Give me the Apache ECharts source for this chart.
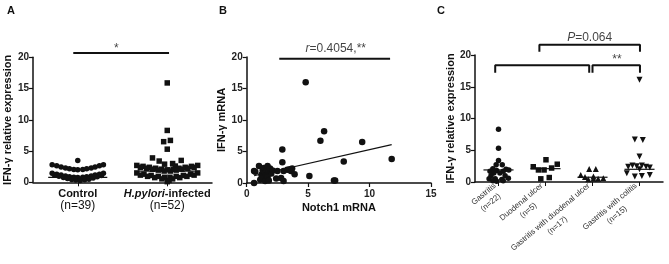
<!DOCTYPE html>
<html>
<head>
<meta charset="utf-8">
<script src="https://cdn.jsdelivr.net/npm/echarts@6/dist/echarts.min.js"></script>
<style>
  html, body { margin: 0; padding: 0; background: #fff; }
  #chart { width: 669px; height: 264px; }
</style>
</head>
<body>
<div id="chart"></div>
<script>
const FONT = '"Liberation Sans", Arial, Helvetica, sans-serif';
const INK = '#111';

// ---- panel A: control vs H.pylori-infected
const groupsA = ['Control', 'H.pylori-infected'];
const countsA = [39, 52];
const controlY = [
  2.8, 2.65, 2.45, 2.3, 2.15, 2.05, 2.0, 2.05, 2.15, 2.3, 2.45, 2.65, 2.8,
  3.5,
  1.45, 1.3, 1.15, 1.0, 0.9, 0.8, 0.75, 0.8, 0.9, 1.0, 1.15, 1.3, 1.45,
  1.15, 0.95, 0.75, 0.6, 0.45, 0.35, 0.3, 0.4, 0.5, 0.7, 0.9, 1.1
];
const controlDx = [
  -0.286, -0.235, -0.186, -0.137, -0.093, -0.044, 0, 0.056, 0.1, 0.15, 0.194, 0.242, 0.287,
  0,
  -0.286, -0.235, -0.186, -0.137, -0.093, -0.044, 0, 0.056, 0.1, 0.15, 0.194, 0.242, 0.287,
  -0.26, -0.21, -0.16, -0.115, -0.068, -0.022, 0.028, 0.078, 0.125, 0.172, 0.218, 0.265
];
const pyloriY = [
  15.9, 8.3, 6.7, 6.5, 5.3, 3.9, 3.5, 3.4, 3.0, 2.9, 2.6,
  2.7, 2.55, 2.4, 2.25, 2.1, 2.0, 2.1, 2.25, 2.4, 2.55, 2.7,
  2.4, 2.25, 2.1, 1.95, 1.8, 1.8, 1.95, 2.1, 2.25, 2.4,
  1.5, 1.3, 1.1, 0.95, 0.8, 0.8, 0.95, 1.1, 1.3, 1.5,
  1.15, 0.95, 0.75, 0.55, 0.55, 0.75, 0.95, 1.15,
  0.1, 0.3
];
const pyloriDx = [
  0, 0, 0.035, -0.04, 0, -0.165, 0.156, -0.09, 0.06, -0.03, 0.09,
  -0.34, -0.27, -0.2, -0.13, -0.065, 0, 0.065, 0.13, 0.2, 0.27, 0.34,
  -0.3, -0.23, -0.165, -0.1, -0.035, 0.035, 0.1, 0.165, 0.23, 0.3,
  -0.34, -0.26, -0.18, -0.1, -0.03, 0.03, 0.1, 0.18, 0.26, 0.34,
  -0.3, -0.22, -0.14, -0.06, 0.06, 0.14, 0.22, 0.3,
  0, 0.02
];
const mediansA = [0.8, 1.8];

// ---- panel B: Notch1 vs IFN-y
const notchX = [
  0.6, 0.6, 0.7, 1.0, 1.1, 1.2, 1.3, 1.3, 1.4, 1.5, 1.5, 1.6, 1.7, 1.7, 1.8, 1.8,
  1.9, 2.0, 2.1, 2.4, 2.5, 2.8, 2.9, 2.9, 3.0, 3.0, 3.3, 3.5, 3.6, 3.7, 3.9,
  4.8, 5.1, 6.0, 6.3, 7.1, 7.2, 7.9, 9.4, 11.8
];
const ifnY = [
  0.0, 1.9, 1.8, 2.7, 0.5, 1.3, 2.0, 0.8, 2.4, 1.6, 0.3, 2.1, 2.7, 1.0, 1.8, 0.4,
  2.3, 1.5, 2.0, 0.7, 1.9, 0.8, 5.3, 3.3, 0.3, 1.9, 2.1, 2.2, 1.9, 2.3, 1.4,
  16.0, 1.1, 6.7, 8.2, 0.4, 0.4, 3.4, 6.5, 3.8
];
const fitX = [0.6, 11.8];
const fitY = [1.15, 6.1];

// ---- panel C: disease subgroups
const groupsC = ['Gastritis', 'Duodenal ulcer', 'Gastritis with duodenal ulcer', 'Gastritis with colitis'];
const countsC = [22, 5, 17, 15];
const gastY = [8.3, 5.3, 3.4, 2.7, 2.7, 2.1, 2.0, 1.7, 1.8, 1.7, 1.9, 1.4, 1.4, 1.0, 1.0, 0.5, 0.5, 0.4, 0.6, 0.2, 0.1, 0.2];
const gastDx = [0, 0, 0, -0.05, 0.08, -0.12, 0.16, -0.18, -0.04, 0.1, 0.22, -0.1, 0.03, -0.16, 0.14, -0.2, -0.07, 0.07, 0.21, -0.12, -0.04, 0.1];
const duoY = [2.4, 3.5, 2.8, 1.9, 1.9, 2.2, 0.5, 0.7];
const duoDx = [-0.26, 0.01, 0.25, -0.15, -0.03, 0.13, -0.1, 0.08];
const gduY = [2.05, 2.05, 1.1, 0.8, 0.85, 0.42, 0.5, 0.5, 0.6];
const gduDx = [-0.07, 0.07, -0.25, -0.16, 0.02, -0.09, 0.02, 0.12, 0.23];
const gcolY = [16.1, 6.7, 6.6, 4.0, 2.4, 2.6, 2.5, 2.6, 2.4, 2.3, 1.37, 0.85, 0.95, 1.1, 2.0];
const gcolDx = [0, -0.1, 0.07, 0, -0.24, -0.15, -0.06, 0.05, 0.14, 0.22, -0.27, -0.1, 0.05, 0.22, 0];
const mediansC = [1.9, 2.1, 0.75, 2.0];

const spread = (idx, ys, dxs) => ys.map((y, i) => [idx + dxs[i], y]);

const lineSeries = (xi, yi, data, width) => ({
  type: 'line', xAxisIndex: xi, yAxisIndex: yi, data,
  symbol: 'none', clip: false, silent: true, z: 4,
  lineStyle: { color: INK, width }
});

const textSeries = (xi, yi, x, y, text, rich) => ({
  type: 'scatter', xAxisIndex: xi, yAxisIndex: yi, data: [[x, y]],
  symbolSize: 1, clip: false, silent: true,
  itemStyle: { color: 'rgba(0,0,0,0)' },
  label: {
    show: true, position: 'inside', formatter: text,
    color: INK, fontFamily: FONT, fontSize: 12, rich
  }
});

const dots = (xi, yi, data, symbol, size, extra) => Object.assign({
  type: 'scatter', xAxisIndex: xi, yAxisIndex: yi, data,
  symbol, symbolSize: size, clip: false, z: 3,
  itemStyle: { color: INK, opacity: 1 }
}, extra || {});

const yAxisBase = (grid, name, gap) => ({
  type: 'value', gridIndex: grid, min: 0, max: 20, interval: 5,
  name, nameLocation: 'middle', nameGap: gap, nameRotate: 90,
  nameTextStyle: { fontFamily: FONT, fontSize: 11, fontWeight: 'bold', color: INK },
  axisLine: { show: true, onZero: false, lineStyle: { color: INK, width: 1.5 } },
  axisTick: { show: true, length: 4, lineStyle: { color: INK, width: 1.2 } },
  axisLabel: { fontFamily: FONT, fontSize: 10, fontWeight: 'bold', color: '#222', margin: 4 },
  splitLine: { show: false }
});

const hiddenX = (grid, min, max) => ({
  type: 'value', gridIndex: grid, min, max, show: false, splitLine: { show: false }
});

const axisLineStyle = { show: true, onZero: false, lineStyle: { color: INK, width: 1.5 } };

const option = {
  animation: false,
  backgroundColor: '#fff',
  textStyle: { fontFamily: FONT },
  grid: [
    { left: 33, top: 57.3, width: 179, height: 125 },
    { left: 246.7, top: 57, width: 184.3, height: 126 },
    { left: 475, top: 55, width: 188, height: 127 }
  ],
  xAxis: [
    {
      type: 'category', gridIndex: 0, data: groupsA,
      axisLine: axisLineStyle,
      axisTick: { show: true, alignWithLabel: true, length: 4, lineStyle: { color: INK } },
      axisLabel: {
        interval: 0, margin: 6, color: INK, fontFamily: FONT, lineHeight: 11,
        formatter: (v, i) => (i === 0
          ? '{b|' + v + '}'
          : '{i|H.pylori}{b|-infected}') + '\n{n|(n=' + countsA[i] + ')}',
        rich: {
          b: { fontFamily: FONT, fontSize: 11, fontWeight: 'bold', color: INK, lineHeight: 11 },
          i: { fontFamily: FONT, fontSize: 11, fontWeight: 'bold', fontStyle: 'italic', color: INK, lineHeight: 11 },
          n: { fontFamily: FONT, fontSize: 12, color: INK, lineHeight: 13 }
        }
      }
    },
    hiddenX(0, -0.5, 1.5),
    {
      type: 'value', gridIndex: 1, min: 0, max: 15, interval: 5,
      name: 'Notch1 mRNA', nameLocation: 'middle', nameGap: 19,
      nameTextStyle: { fontFamily: FONT, fontSize: 11, fontWeight: 'bold', color: INK },
      axisLine: axisLineStyle,
      axisTick: { show: true, length: 4, lineStyle: { color: INK, width: 1.2 } },
      axisLabel: { fontFamily: FONT, fontSize: 10, fontWeight: 'bold', color: '#222', margin: 6 },
      splitLine: { show: false }
    },
    {
      type: 'category', gridIndex: 2, data: groupsC,
      axisLine: axisLineStyle,
      axisTick: { show: true, alignWithLabel: true, length: 4, lineStyle: { color: INK } },
      axisLabel: {
        rotate: 40, margin: 7, interval: 0, color: '#333', fontFamily: FONT, fontSize: 8,
        formatter: (v, i) => '{a|' + v + '}\n{a|(n=' + countsC[i] + ')}',
        rich: { a: { fontFamily: FONT, fontSize: 8, color: '#333', align: 'center', lineHeight: 11 } }
      }
    },
    hiddenX(2, -0.5, 3.5)
  ],
  yAxis: [
    yAxisBase(0, 'IFN-γ relative expression', 20),
    yAxisBase(1, 'IFN-γ mRNA', 16),
    yAxisBase(2, 'IFN-γ relative expression', 16)
  ],
  graphic: [
    { type: 'text', left: 7, top: 5, style: { text: 'A', font: 'bold 11px ' + FONT, fill: INK } },
    { type: 'text', left: 219, top: 5, style: { text: 'B', font: 'bold 11px ' + FONT, fill: INK } },
    { type: 'text', left: 437, top: 5, style: { text: 'C', font: 'bold 11px ' + FONT, fill: INK } }
  ],
  series: [
    // A
    dots(1, 0, spread(0, controlY, controlDx), 'circle', 5.5),
    dots(1, 0, spread(1, pyloriY, pyloriDx), 'rect', 5.5),
    ...mediansA.map((m, i) => lineSeries(1, 0, [[i - 0.33, m], [i + 0.33, m]], 1.2)),
    lineSeries(1, 0, [[-0.05, 20.7], [1.02, 20.7]], 2),
    textSeries(1, 0, 0.43, 21.4, '*'),
    // B
    dots(2, 1, notchX.map((x, i) => [x, ifnY[i]]), 'circle', 6.5),
    lineSeries(2, 1, fitX.map((x, i) => [x, fitY[i]]), 1.2),
    lineSeries(2, 1, [[2.65, 19.73], [11.67, 19.73]], 2),
    textSeries(2, 1, 7.25, 21.3, '{r|r}=0.4054,**', {
      r: { fontFamily: FONT, fontSize: 12, fontStyle: 'italic', color: INK }
    }),
    // C
    dots(4, 2, spread(0, gastY, gastDx), 'circle', 5.5),
    dots(4, 2, spread(1, duoY, duoDx), 'rect', 5.5),
    dots(4, 2, spread(2, gduY, gduDx), 'triangle', 6),
    dots(4, 2, spread(3, gcolY, gcolDx), 'triangle', 6, { symbolRotate: 180 }),
    ...mediansC.map((m, i) => lineSeries(4, 2, [[i - 0.32, m], [i + 0.32, m]], 1.2)),
    lineSeries(4, 2, [[-0.07, 17.2], [-0.07, 18.4], [1.93, 18.4], [1.93, 17.2]], 2),
    lineSeries(4, 2, [[2.0, 17.2], [2.0, 18.4], [3.01, 18.4], [3.01, 17.2]], 2),
    lineSeries(4, 2, [[0.87, 20.5], [0.87, 21.6], [3.01, 21.6], [3.01, 20.5]], 2),
    textSeries(4, 2, 2.52, 19.3, '**', null),
    textSeries(4, 2, 1.94, 22.8, '{p|P}=0.064', {
      p: { fontFamily: FONT, fontSize: 12, fontStyle: 'italic', color: INK }
    })
  ]
};

const chart = echarts.init(document.getElementById('chart'), null, { renderer: 'canvas' });
chart.setOption(option);
</script>
</body>
</html>
